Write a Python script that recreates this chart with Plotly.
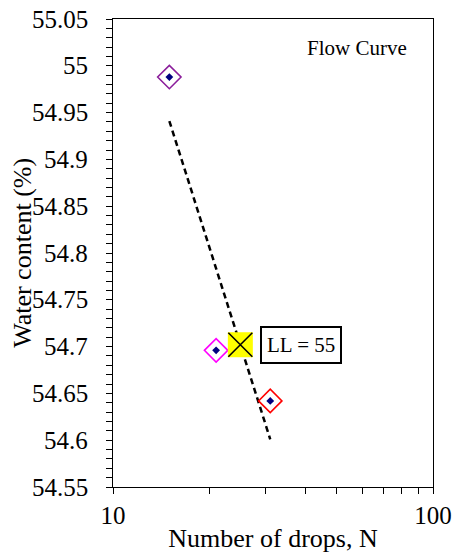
import plotly.graph_objects as go

# Data
drops = [15, 21, 31]
water = [54.988, 54.696, 54.642]
point_colors = ["#8B1E9B", "#FF00FF", "#FF0000"]

trend_x = [15, 31]
trend_y = [54.941, 54.601]

ll_x = [25]
ll_y = [54.702]
ll_label = "LL = 55"

y_range = [54.55, 55.05]
y_ticks = [54.55, 54.6, 54.65, 54.7, 54.75, 54.8, 54.85, 54.9, 54.95, 55.0, 55.05]
y_ticktext = ["54.55", "54.6", "54.65", "54.7", "54.75", "54.8", "54.85", "54.9", "54.95", "55", "55.05"]
y_minor_step = 0.01
x_ticks = [10, 20, 30, 40, 50, 60, 70, 80, 90, 100]
x_ticktext = ["10", "", "", "", "", "", "", "", "", "100"]

FONT = "Liberation Serif"

fig = go.Figure()

fig.add_trace(go.Scatter(
    x=trend_x, y=trend_y, mode="lines",
    line=dict(color="black", width=2.5, dash="6px,4px"),
    showlegend=False, hoverinfo="skip"))

fig.add_trace(go.Scatter(
    x=drops, y=water, mode="markers",
    marker=dict(symbol="diamond-open", size=18, color=point_colors,
                line=dict(width=1.6, color=point_colors)),
    showlegend=False))
fig.add_trace(go.Scatter(
    x=drops, y=water, mode="markers",
    marker=dict(symbol="diamond", size=6, color="#000080"),
    showlegend=False))

fig.add_trace(go.Scatter(
    x=ll_x, y=ll_y, mode="markers",
    marker=dict(symbol="square", size=25, color="#FFFF00", line=dict(width=0)),
    showlegend=False))
fig.add_trace(go.Scatter(
    x=ll_x, y=ll_y, mode="markers",
    marker=dict(symbol="x-thin", size=24, color="black",
                line=dict(width=1.6, color="black")),
    showlegend=False))

fig.add_annotation(
    x=0.459, xref="paper", xanchor="left",
    y=ll_y[0], yref="y", yanchor="middle",
    text=ll_label, showarrow=False,
    font=dict(family=FONT, size=21, color="black"),
    bordercolor="black", borderwidth=2, borderpad=5, bgcolor="white")

fig.add_annotation(
    x=0.925, xref="paper", xanchor="right",
    y=0.938, yref="paper", yanchor="middle",
    text="Flow Curve", showarrow=False,
    font=dict(family=FONT, size=21, color="black"))

# y tick labels (placed on the y scale)
for val, txt in zip(y_ticks, y_ticktext):
    fig.add_annotation(
        x=-0.072, xref="paper", xanchor="right",
        y=val, yref="y", yanchor="middle",
        text=txt, showarrow=False,
        font=dict(family=FONT, size=25, color="black"))

# y axis title
fig.add_annotation(
    x=-0.285, xref="paper", xanchor="center",
    y=0.5, yref="paper", yanchor="middle",
    text="Water content (%)", textangle=-90, showarrow=False,
    font=dict(family=FONT, size=26, color="black"))

fig.update_layout(
    width=453, height=553,
    margin=dict(l=113, r=20, t=19, b=66),
    paper_bgcolor="white", plot_bgcolor="white",
    font=dict(family=FONT, color="black"),
    xaxis=dict(
        type="log", range=[1, 2],
        tickvals=x_ticks, ticktext=x_ticktext,
        ticks="outside", ticklen=6, tickwidth=1, tickcolor="black",
        showline=True, linecolor="black", linewidth=1, mirror=True,
        showgrid=False, zeroline=False,
        tickfont=dict(family=FONT, size=25),
        title=dict(text="Number of drops, N", font=dict(family=FONT, size=26), standoff=2),
        automargin=False),
    yaxis=dict(
        range=y_range,
        tickmode="array", tickvals=y_ticks, showticklabels=False,
        ticks="outside", ticklen=6, tickwidth=1, tickcolor="black",
        minor=dict(tickmode="linear", tick0=y_range[0], dtick=y_minor_step,
                   ticks="outside", ticklen=6, tickwidth=1, tickcolor="black", showgrid=False),
        showline=True, linecolor="black", linewidth=1, mirror=True,
        showgrid=False, zeroline=False,
        automargin=False),
)

fig.write_html("out.html")
